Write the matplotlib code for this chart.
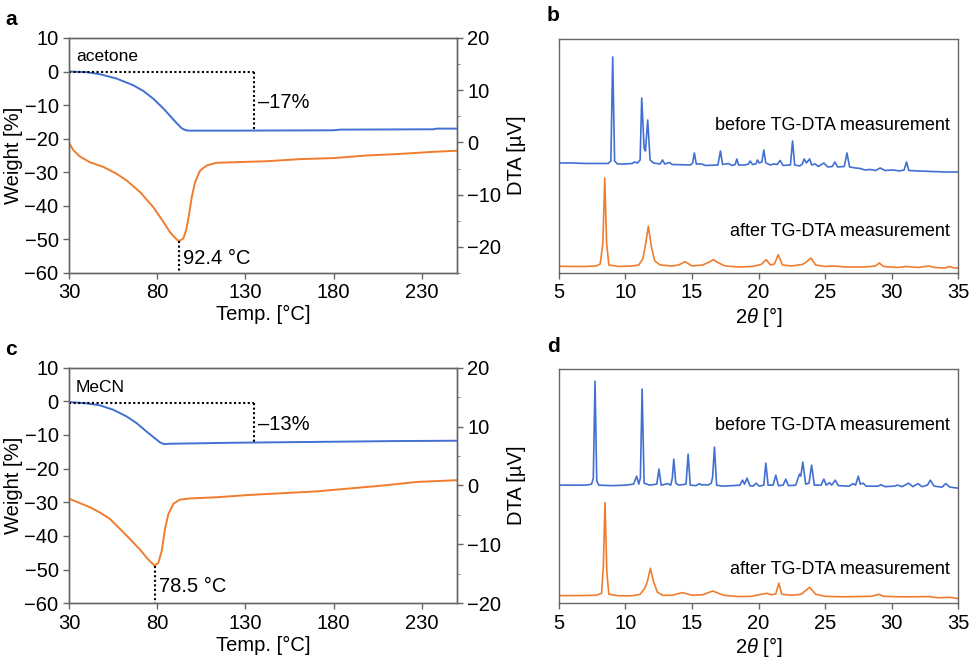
import matplotlib
matplotlib.use('Agg')
from matplotlib import pyplot as plt
from matplotlib.ticker import MultipleLocator, NullLocator

plt.rcParams['font.family'] = ['Liberation Sans', 'DejaVu Sans']
plt.rcParams['mathtext.fontset'] = 'custom'
plt.rcParams['mathtext.rm'] = 'Liberation Sans'
plt.rcParams['mathtext.it'] = 'Liberation Sans:italic'

BLUE = '#4170d2'
ORANGE = '#f07c2e'
SPINE = '#666666'
DOTS = (0, (1, 1.2))

# ---- TG / DTA, acetone (panel a) ----
tgA_temp = [30, 40, 47.6, 57, 66.5, 72.2, 77.8, 83.5, 87.3, 91.1, 93.9, 95.8, 97.7, 123.2, 179.9, 183.7, 236.6, 238.5, 250]
tgA_weight = [0, -0.2, -0.8, -2.1, -4.1, -5.8, -8.1, -11.0, -13.2, -15.4, -16.9, -17.4, -17.6, -17.6, -17.5, -17.3, -17.2, -17.0, -17.0]
dtaA_temp = [30.6, 32.5, 36.2, 41.9, 49.5, 57, 62.7, 70.3, 77.8, 83.5, 87.3, 91.1, 92.4, 94.8, 96.4, 97.7, 99.6, 101.5,
             104.3, 108.1, 113.7, 123.2, 142.1, 161, 179.9, 198.8, 217.7, 236.6, 250]
dtaA_val = [-0.4, -1.5, -2.7, -3.8, -4.7, -6.0, -7.3, -9.5, -12.4, -15.2, -17.2, -18.6, -18.9, -18.4, -16.8, -14.6, -10.5, -7.6,
            -5.4, -4.4, -3.9, -3.8, -3.6, -3.2, -3.0, -2.5, -2.2, -1.8, -1.6]

# ---- TG / DTA, MeCN (panel c) ----
tgC_temp = [30, 40, 47.6, 55.1, 62.7, 68.4, 74, 78.8, 81.6, 83.9, 87.3, 123.2, 179.9, 215.8, 250]
tgC_weight = [-0.2, -0.6, -1.2, -2.5, -4.5, -6.5, -9.0, -11.0, -12.2, -12.7, -12.6, -12.3, -12.0, -11.8, -11.7]
dtaC_temp = [30.6, 36.2, 41.9, 47.6, 53.3, 59, 64.6, 70.3, 75, 77.8, 78.5, 80.7, 82.6, 84.4, 86.3, 89.2, 92.9, 98.6,
             113.7, 132.6, 151.6, 170.5, 189.4, 208.3, 227.2, 250]
dtaC_val = [-2.3, -3.0, -3.7, -4.6, -5.7, -7.4, -9.1, -10.9, -12.6, -13.4, -13.6, -13.1, -11.1, -7.4, -4.9, -3.1, -2.4, -2.2,
            -2.0, -1.6, -1.3, -1.0, -0.5, 0.0, 0.6, 0.9]

temp_ticks = [30, 80, 130, 180, 230]

# ---- PXRD, acetone (panel b) ----
xrdB_before_2t = [5.0, 6.0, 7.0, 8.0, 8.7, 8.9, 9.04, 9.18, 9.4, 10.0, 10.5, 10.7, 10.9, 11.1, 11.22, 11.4, 11.5, 11.67, 11.85,
                  12.1, 12.6, 12.78, 12.95, 13.33, 13.5, 14.9, 15.05, 15.18, 15.32, 15.73, 16.0, 16.95, 17.14, 17.3,
                  17.74, 18.0, 18.25, 18.37, 18.5, 19.0, 19.25, 19.37, 19.55, 19.8, 19.92, 20.05, 20.25, 20.4, 20.55,
                  20.9, 21.13, 21.4, 21.63, 21.85, 22.4, 22.56, 22.72, 23.1, 23.3, 23.43, 23.6, 23.84, 24.0, 24.26,
                  24.5, 24.91, 25.2, 25.55, 25.74, 25.95, 26.45, 26.65, 26.85, 27.3, 27.65, 28.0, 28.4, 28.8, 29.15,
                  29.5, 30.15, 30.6, 30.95, 31.13, 31.3, 32.0, 33.0, 34.0, 35.0]
xrdB_before_int = [110, 110, 109.5, 109.5, 109.5, 112, 216, 112, 109, 109, 109.5, 111, 110, 113, 175, 125, 122, 153, 113,
                   110, 109, 113, 109, 110.5, 108.5, 108, 110, 120, 109, 109, 107.5, 108, 122, 108.5,
                   109.5, 107.5, 108.5, 114, 108, 108, 109, 112, 108.5, 109, 113, 110, 111, 123, 110,
                   108, 109, 108.5, 112.5, 107.5, 108, 132, 108, 107, 109, 114, 110, 114, 108, 109,
                   106.5, 110, 106, 106.5, 111, 106, 106.5, 120, 106, 105, 104.5, 103, 103.5, 102.5, 105,
                   102.5, 103, 102, 103, 111, 102.5, 102, 101.5, 101, 101]
xrdB_after_2t = [5.0, 6.0, 7.0, 7.8, 8.1, 8.3, 8.44, 8.58, 8.75, 9.5, 10.5, 11.0, 11.3, 11.5, 11.72, 11.95, 12.2, 12.6,
                 13.5, 14.0, 14.48, 15.0, 15.8, 16.3, 16.6, 17.0, 17.5, 18.5, 19.5, 20.2, 20.58, 20.9, 21.2, 21.48,
                 21.8, 22.5, 23.0, 23.3, 23.6, 23.94, 24.3, 25.0, 25.64, 26.5, 28.0, 28.8, 29.08, 29.4, 30.5, 31.1,
                 32.0, 32.8, 33.2, 34.0, 34.37, 34.7, 35.0]
xrdB_after_int = [6.7, 6.5, 6.5, 7, 9, 30, 95, 30, 8, 6.5, 7, 8, 14, 28, 46.7, 26, 12, 8,
                  7, 8, 11.3, 7, 8, 11, 13.3, 10, 7, 6, 6.5, 8.5, 13.3, 8, 9, 18.3,
                  8, 7, 8, 8.5, 11, 15, 8, 6.5, 7, 6, 6, 7, 10, 6.5, 5.5, 6.5,
                  5.5, 7, 5.5, 5, 6.5, 5, 5]

# ---- PXRD, MeCN (panel d) ----
xrdD_before_2t = [5.0, 6.0, 7.0, 7.45, 7.58, 7.71, 7.84, 8.0, 9.0, 10.0, 10.6, 10.84, 11.0, 11.12, 11.25, 11.4, 11.8,
                  12.35, 12.52, 12.68, 13.18, 13.4, 13.52, 13.63, 13.78, 14.0, 14.55, 14.71, 14.87, 15.3, 15.56,
                  15.75, 15.9, 16.2, 16.45, 16.55, 16.69, 16.85, 17.3, 18.0, 18.6, 18.8, 18.95, 19.14, 19.35, 19.6,
                  19.82, 20.05, 20.4, 20.55, 20.72, 21.1, 21.3, 21.5, 21.85, 22.05, 22.25, 22.8, 23.08, 23.18, 23.33,
                  23.55, 23.8, 23.99, 24.2, 24.7, 24.91, 25.1, 25.34, 25.5, 25.77, 26.0, 26.8, 27.1, 27.3, 27.5,
                  27.65, 27.85, 28.1, 29.0, 29.2, 29.5, 30.2, 30.46, 30.8, 31.29, 31.6, 31.99, 32.3, 32.7, 32.92,
                  33.2, 33.8, 34.07, 34.4, 35.0]
xrdD_before_int = [118, 118, 118, 119, 125, 221.7, 122, 118, 117.5, 118, 119, 127, 119, 125, 214, 120, 118,
                   119, 134, 118, 119.5, 118, 125, 144, 120, 118, 119, 149, 118, 117.5, 119.5,
                   118, 118.5, 118, 120, 126, 156, 118, 117, 117.5, 118, 123, 119, 125, 117.5, 117,
                   120, 117, 118, 140, 118, 118, 128, 117.5, 118, 124, 117.5, 118, 129, 127, 141,
                   119, 120, 138, 118, 118, 124, 118, 120.5, 118, 123, 117.5, 117, 119.5, 118, 127,
                   119, 120, 117, 117, 118.5, 116.5, 117, 118, 116.5, 120, 116.5, 119.5, 116.5, 118, 123,
                   117, 116, 119.5, 116, 115]
xrdD_after_2t = [5.0, 6.5, 7.8, 8.2, 8.33, 8.46, 8.6, 8.75, 9.5, 10.5, 11.1, 11.45, 11.65, 11.87, 12.1, 12.4, 12.8,
                 13.5, 14.28, 15.0, 15.8, 16.56, 16.8, 16.99, 17.4, 18.5, 19.5, 20.2, 20.63, 21.0, 21.3, 21.53,
                 21.75, 22.5, 23.2, 23.84, 24.3, 25.0, 25.64, 26.5, 28.5, 29.05, 29.4, 30.5, 31.5, 32.8, 33.5,
                 34.4, 35.0]
xrdD_after_int = [7.7, 7.7, 8, 10, 35, 100.7, 30, 9, 7.5, 7.5, 9, 15, 22, 35, 22, 11, 8,
                  8, 10.7, 8, 8.5, 12.3, 11, 10, 8, 6.7, 7, 9, 10, 8.5, 9.5, 20,
                  9, 8, 9, 16, 9, 7, 6.7, 6.5, 7, 9, 7, 6.5, 6.5, 6.7, 5.5,
                  6, 4.7]

FS = 14.5


def style_spines(ax):
	for s in ax.spines.values():
		s.set_color(SPINE)
		s.set_linewidth(1.0)
	ax.tick_params(direction='out', length=4, width=1.0, color=SPINE, labelsize=FS)


def draw_tg(rect, temp, weight, dtemp, dval, dta_lim, dta_minor, solvent, solvent_y, zero_y, step_y, loss_text,
            loss_y, peak_T, peak_V, peak_text, peak_text_y):
	ax = fig.add_axes(rect)
	ax2 = ax.twinx()
	ax.set_zorder(ax2.get_zorder() + 1)
	ax.patch.set_visible(False)
	ax.plot(temp, weight, color=BLUE, lw=1.4)
	ax2.plot(dtemp, dval, color=ORANGE, lw=1.4)
	ax.set_xlim(30, 250)
	ax.set_ylim(-60, 10)
	ax2.set_ylim(*dta_lim)
	ax.set_xticks(temp_ticks)
	ax.yaxis.set_major_locator(MultipleLocator(10))
	ax2.yaxis.set_major_locator(MultipleLocator(10))
	ax2.yaxis.set_minor_locator(MultipleLocator(dta_minor))
	style_spines(ax)
	style_spines(ax2)
	ax2.tick_params(which='minor', length=2.5, color=SPINE)
	ax.set_xlabel('Temp. [°C]', fontsize=FS, labelpad=2)
	ax.set_ylabel('Weight [%]', fontsize=FS, labelpad=1)
	ax2.set_ylabel('DTA [µV]', fontsize=FS, labelpad=4)
	# weight loss marker
	ax.plot([30, 135], [zero_y, zero_y], color='black', ls=DOTS, lw=1.5)
	ax.plot([135, 135], [zero_y, step_y], color='black', ls=DOTS, lw=1.5)
	ax.text(137, loss_y, loss_text, fontsize=FS, va='center', ha='left')
	ax.text(34, solvent_y, solvent, fontsize=12.5, va='center', ha='left')
	# DTA peak marker
	ax2.plot([peak_T, peak_T], [peak_V, dta_lim[0]], color='black', ls=DOTS, lw=1.5)
	ax2.text(peak_T + 2.5, peak_text_y, peak_text, fontsize=FS, va='center', ha='left')
	return ax


def draw_xrd(rect, x1, y1, x2, y2, before_y, after_y):
	ax = fig.add_axes(rect)
	ax.plot(x1, y1, color=BLUE, lw=1.2)
	ax.plot(x2, y2, color=ORANGE, lw=1.2)
	ax.set_xlim(5, 35)
	ax.set_ylim(0, 234)
	ax.xaxis.set_major_locator(MultipleLocator(5))
	ax.yaxis.set_major_locator(NullLocator())
	style_spines(ax)
	ax.set_xlabel(r'2$\theta$ [°]', fontsize=FS, labelpad=2)
	ax.text(34.4, before_y, 'before TG-DTA measurement', fontsize=13, ha='right', va='center')
	ax.text(34.4, after_y, 'after TG-DTA measurement', fontsize=13, ha='right', va='center')
	return ax


fig = plt.figure(figsize=(9.73, 6.65), dpi=100)

draw_tg([0.0709, 0.5895, 0.3988, 0.3534], tgA_temp, tgA_weight, dtaA_temp, dtaA_val, (-25, 20), 5,
        'acetone', 4.4, 0, -17.5, '–17%', -9.3, 92.4, -18.9, '92.4 °C', -22.2)
draw_tg([0.0709, 0.0928, 0.3988, 0.3543], tgC_temp, tgC_weight, dtaC_temp, dtaC_val, (-20, 20), 5,
        'MeCN', 4.0, -0.5, -12.2, '–13%', -7.0, 78.5, -13.6, '78.5 °C', -17.1)
draw_xrd([0.5745, 0.5895, 0.4101, 0.3519], xrdB_before_2t, xrdB_before_int, xrdB_after_2t, xrdB_after_int, 147, 41)
draw_xrd([0.5745, 0.0928, 0.4101, 0.3523], xrdD_before_2t, xrdD_before_int, xrdD_after_2t, xrdD_after_int, 178, 34)

for lab, x, y in [('a', 5, 10), ('b', 547, 6), ('c', 5, 340), ('d', 547, 337)]:
	fig.text(x / 973, 1 - y / 665, lab, fontsize=15, fontweight='bold', ha='left', va='top')

plt.savefig('out.png', dpi=100)
plt.close()
